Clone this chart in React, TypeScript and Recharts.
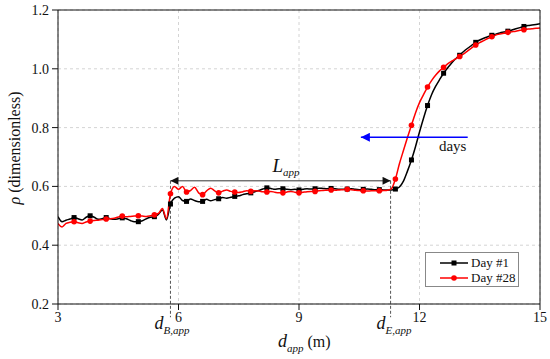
import React from 'react';
import { LineChart, Line, XAxis, YAxis, CartesianGrid, ReferenceLine, Legend } from 'recharts';

// apparent distance d_app (m), one sample every 0.1 m
const DISTANCE = [
  3.0, 3.1, 3.2, 3.3, 3.4, 3.5, 3.6, 3.7, 3.8, 3.9,
  4.0, 4.1, 4.2, 4.3, 4.4, 4.5, 4.6, 4.7, 4.8, 4.9,
  5.0, 5.1, 5.2, 5.3, 5.4, 5.5, 5.6, 5.7, 5.8, 5.9,
  6.0, 6.1, 6.2, 6.3, 6.4, 6.5, 6.6, 6.7, 6.8, 6.9,
  7.0, 7.1, 7.2, 7.3, 7.4, 7.5, 7.6, 7.7, 7.8, 7.9,
  8.0, 8.1, 8.2, 8.3, 8.4, 8.5, 8.6, 8.7, 8.8, 8.9,
  9.0, 9.1, 9.2, 9.3, 9.4, 9.5, 9.6, 9.7, 9.8, 9.9,
  10.0, 10.1, 10.2, 10.3, 10.4, 10.5, 10.6, 10.7, 10.8, 10.9,
  11.0, 11.1, 11.2, 11.3, 11.4, 11.5, 11.6, 11.7, 11.8, 11.9,
  12.0, 12.1, 12.2, 12.3, 12.4, 12.5, 12.6, 12.7, 12.8, 12.9,
  13.0, 13.1, 13.2, 13.3, 13.4, 13.5, 13.6, 13.7, 13.8, 13.9,
  14.0, 14.1, 14.2, 14.3, 14.4, 14.5, 14.6, 14.7, 14.8, 14.9,
  15.0,
];

const DAY_1 = [
  0.497, 0.480, 0.485, 0.489, 0.494, 0.490, 0.486, 0.495, 0.500, 0.495,
  0.488, 0.490, 0.494, 0.490, 0.488, 0.490, 0.493, 0.490, 0.484, 0.480,
  0.480, 0.483, 0.490, 0.495, 0.497, 0.505, 0.520, 0.486, 0.540, 0.560,
  0.565, 0.552, 0.549, 0.557, 0.552, 0.548, 0.549, 0.556, 0.551, 0.555,
  0.558, 0.562, 0.560, 0.563, 0.566, 0.568, 0.572, 0.575, 0.578, 0.582,
  0.586, 0.591, 0.595, 0.593, 0.590, 0.592, 0.592, 0.590, 0.589, 0.590,
  0.588, 0.590, 0.592, 0.591, 0.592, 0.594, 0.593, 0.592, 0.593, 0.592,
  0.590, 0.590, 0.591, 0.592, 0.590, 0.589, 0.590, 0.591, 0.590, 0.589,
  0.589, 0.588, 0.588, 0.588, 0.591, 0.598, 0.618, 0.652, 0.690, 0.735,
  0.785, 0.832, 0.875, 0.912, 0.940, 0.963, 0.985, 1.003, 1.020, 1.034,
  1.046, 1.059, 1.070, 1.080, 1.090, 1.098, 1.104, 1.109, 1.114, 1.118,
  1.122, 1.125, 1.128, 1.132, 1.136, 1.140, 1.144, 1.147, 1.149, 1.151,
  1.153,
];

const DAY_28 = [
  0.474, 0.462, 0.474, 0.478, 0.480, 0.476, 0.474, 0.479, 0.482, 0.484,
  0.485, 0.487, 0.489, 0.490, 0.492, 0.496, 0.499, 0.497, 0.498, 0.499,
  0.500, 0.499, 0.498, 0.500, 0.503, 0.508, 0.525, 0.490, 0.575, 0.600,
  0.590, 0.600, 0.581, 0.586, 0.597, 0.578, 0.572, 0.585, 0.594, 0.585,
  0.578, 0.584, 0.588, 0.583, 0.581, 0.579, 0.582, 0.585, 0.583, 0.585,
  0.584, 0.582, 0.581, 0.583, 0.580, 0.578, 0.578, 0.581, 0.583, 0.580,
  0.578, 0.580, 0.582, 0.583, 0.583, 0.585, 0.586, 0.587, 0.588, 0.587,
  0.588, 0.589, 0.590, 0.589, 0.587, 0.586, 0.585, 0.584, 0.585, 0.585,
  0.585, 0.586, 0.587, 0.592, 0.625, 0.677, 0.722, 0.766, 0.808, 0.850,
  0.885, 0.912, 0.938, 0.960, 0.978, 0.993, 1.005, 1.017, 1.026, 1.034,
  1.042, 1.051, 1.061, 1.071, 1.081, 1.089, 1.096, 1.103, 1.109, 1.115,
  1.118, 1.121, 1.124, 1.126, 1.128, 1.131, 1.133, 1.135, 1.136, 1.138,
  1.139,
];

const X_TICKS = [3, 6, 9, 12, 15];
const X_MINOR = [4.5, 7.5, 10.5, 13.5];
const X_ALL = [3, 4.5, 6, 7.5, 9, 10.5, 12, 13.5, 15];
const Y_TICKS = [0.2, 0.4, 0.6, 0.8, 1.0, 1.2];
const Y_MINOR = [0.3, 0.5, 0.7, 0.9, 1.1];
const Y_ALL = [0.2, 0.3, 0.4, 0.5, 0.6, 0.7, 0.8, 0.9, 1.0, 1.1, 1.2];

// annotations
const D_B = 5.8;
const D_E = 11.28;
const L_LEVEL = 0.619;
const D_FOOT = 0.155;
const DAYS_FROM = 13.2;
const DAYS_TO = 10.54;
const DAYS_LEVEL = 0.767;

const rows = DISTANCE.map((d, i) => ({ d, day1: DAY_1[i], day28: DAY_28[i] }));

const FONT = 'Liberation Serif, DejaVu Serif, Times New Roman, serif';
const MARK_EVERY = 4;
const isMarked = (i: number) => i > 0 && i < DISTANCE.length - 1 && i % MARK_EVERY === 0;

const SquareDot = (p: any) =>
  isMarked(p.index) ? (
    <rect key={`s${p.index}`} x={p.cx - 2.5} y={p.cy - 2.5} width={5} height={5} fill="#000" />
  ) : (
    <g key={`s${p.index}`} />
  );

const CircleDot = (p: any) =>
  isMarked(p.index) ? (
    <circle key={`c${p.index}`} cx={p.cx} cy={p.cy} r={2.8} fill="#ff0000" />
  ) : (
    <g key={`c${p.index}`} />
  );

const LegendBox = () => (
  <div
    style={{
      width: 92,
      height: 31,
      border: '1px solid #888',
      background: '#fff',
      fontFamily: FONT,
      fontSize: 13,
      lineHeight: '15px',
      color: '#111',
      paddingTop: 2,
      boxSizing: 'content-box',
      whiteSpace: 'nowrap',
    }}
  >
    {[
      { name: 'Day #1', color: '#000', square: true },
      { name: 'Day #28', color: '#ff0000', square: false },
    ].map((s) => (
      <div key={s.name} style={{ display: 'flex', alignItems: 'center', height: 15 }}>
        <svg width={45} height={12} style={{ flex: 'none' }}>
          <line x1={14} x2={42} y1={6} y2={6} stroke={s.color} strokeWidth={1.5} />
          {s.square ? (
            <rect x={25.5} y={3.5} width={5} height={5} fill={s.color} />
          ) : (
            <circle cx={28} cy={6} r={2.8} fill={s.color} />
          )}
        </svg>
        <span>{s.name}</span>
      </div>
    ))}
  </div>
);

const XLabel = ({ viewBox }: any) => (
  <text x={viewBox.x + viewBox.width / 2 - 21} y={viewBox.y + 43} fontFamily={FONT} fill="#111">
    <tspan fontStyle="italic" fontSize={18}>d</tspan>
    <tspan fontStyle="italic" fontSize={11} dy={5}>app</tspan>
    <tspan fontSize={16} dy={-5}> (m)</tspan>
  </text>
);

const YLabel = ({ viewBox }: any) => {
  const cx = viewBox.x + 14;
  const cy = viewBox.y + viewBox.height / 2 - 9;
  return (
    <text x={cx} y={cy} transform={`rotate(-90, ${cx}, ${cy})`} textAnchor="middle" dominantBaseline="central" fontFamily={FONT} fontSize={16} fill="#111">
      <tspan fontStyle="italic">ρ</tspan>
      <tspan> (dimensionless)</tspan>
    </text>
  );
};

const dLabel = (sub: string, shift: number) => ({ viewBox }: any) => (
  <text x={viewBox.x - shift} y={viewBox.y + viewBox.height + 12} fontFamily={FONT} fill="#111">
    <tspan fontStyle="italic" fontSize={18}>d</tspan>
    <tspan fontStyle="italic" fontSize={11} dy={5}>{sub}</tspan>
  </text>
);

const LLabel = ({ viewBox }: any) => (
  <text x={viewBox.x + viewBox.width / 2 - 8} y={viewBox.y - 9} fontFamily={FONT} fill="#111">
    <tspan fontStyle="italic" fontSize={19}>L</tspan>
    <tspan fontStyle="italic" fontSize={11} dy={4}>app</tspan>
  </text>
);

const DaysLabel = ({ viewBox }: any) => (
  <text x={viewBox.x + viewBox.width - 15} y={viewBox.y + 14} textAnchor="middle" fontFamily={FONT} fontSize={15} fill="#111">
    days
  </text>
);

const tickStyle = { fontFamily: FONT, fontSize: 14, fill: '#111' };

export default function App() {
  return (
    <div style={{ position: 'absolute', left: 0, top: 0, background: '#fff', fontFamily: FONT }}>
      <LineChart width={550} height={359} data={rows} margin={{ top: 10, right: 10, bottom: 0, left: 0 }}>
        <defs>
          <marker id="arrowGray" viewBox="0 0 10 10" refX={10} refY={5} markerWidth={11} markerHeight={8} markerUnits="userSpaceOnUse" orient="auto-start-reverse">
            <path d="M0,0 L10,5 L0,10 z" fill="#111" />
          </marker>
          <marker id="arrowBlue" viewBox="0 0 10 10" refX={10} refY={5} markerWidth={11} markerHeight={9} markerUnits="userSpaceOnUse" orient="auto">
            <path d="M0,0 L10,5 L0,10 z" fill="#0000ff" />
          </marker>
        </defs>
        <CartesianGrid stroke="#d4d4d4" strokeDasharray="3 3" />
        <XAxis
          dataKey="d"
          type="number"
          domain={[3, 15]}
          ticks={X_TICKS}
          allowDataOverflow
          height={55}
          stroke="#111"
          tickSize={6}
          tickMargin={2}
          tick={tickStyle}
          label={XLabel}
        />
        <XAxis xAxisId="xMinor" type="number" domain={[3, 15]} ticks={X_MINOR} allowDataOverflow mirror axisLine={false} tick={false} tickSize={5} stroke="#111" />
        <XAxis xAxisId="xTop" orientation="top" type="number" domain={[3, 15]} ticks={X_ALL} allowDataOverflow mirror tick={false} tickSize={5} stroke="#111" />
        <YAxis
          type="number"
          domain={[0.2, 1.2]}
          ticks={Y_TICKS}
          allowDataOverflow
          width={58}
          stroke="#111"
          tickSize={6}
          tickMargin={3}
          tick={tickStyle}
          tickFormatter={(v: number) => v.toFixed(1)}
          label={YLabel}
        />
        <YAxis yAxisId="yMinor" type="number" domain={[0.2, 1.2]} ticks={Y_MINOR} allowDataOverflow mirror axisLine={false} tick={false} tickSize={5} stroke="#111" />
        <YAxis yAxisId="yRight" orientation="right" type="number" domain={[0.2, 1.2]} ticks={Y_ALL} allowDataOverflow mirror tick={false} tickSize={5} stroke="#111" />

        <ReferenceLine
          segment={[{ x: D_B, y: L_LEVEL }, { x: D_B, y: D_FOOT }]}
          ifOverflow="visible"
          stroke="#555"
          strokeDasharray="3 2"
          label={dLabel('B,app', 16)}
        />
        <ReferenceLine
          segment={[{ x: D_E, y: L_LEVEL }, { x: D_E, y: D_FOOT }]}
          ifOverflow="visible"
          stroke="#555"
          strokeDasharray="3 2"
          label={dLabel('E,app', 14)}
        />

        <Line type="monotone" dataKey="day1" name="Day #1" stroke="#000" strokeWidth={1.5} dot={SquareDot} activeDot={false} isAnimationActive={false} />
        <Line type="monotone" dataKey="day28" name="Day #28" stroke="#ff0000" strokeWidth={1.5} dot={CircleDot} activeDot={false} isAnimationActive={false} />

        <ReferenceLine
          segment={[{ x: D_B, y: L_LEVEL }, { x: D_E, y: L_LEVEL }]}
          stroke="#333"
          strokeWidth={1}
          markerStart="url(#arrowGray)"
          markerEnd="url(#arrowGray)"
          label={LLabel}
        />
        <ReferenceLine
          segment={[{ x: DAYS_FROM, y: DAYS_LEVEL }, { x: DAYS_TO, y: DAYS_LEVEL }]}
          stroke="#0000ff"
          strokeWidth={1.5}
          markerEnd="url(#arrowBlue)"
          label={DaysLabel}
        />

        <Legend layout="horizontal" verticalAlign="middle" align="center" wrapperStyle={{ left: 425, top: 252 }} content={LegendBox} />
      </LineChart>
    </div>
  );
}
